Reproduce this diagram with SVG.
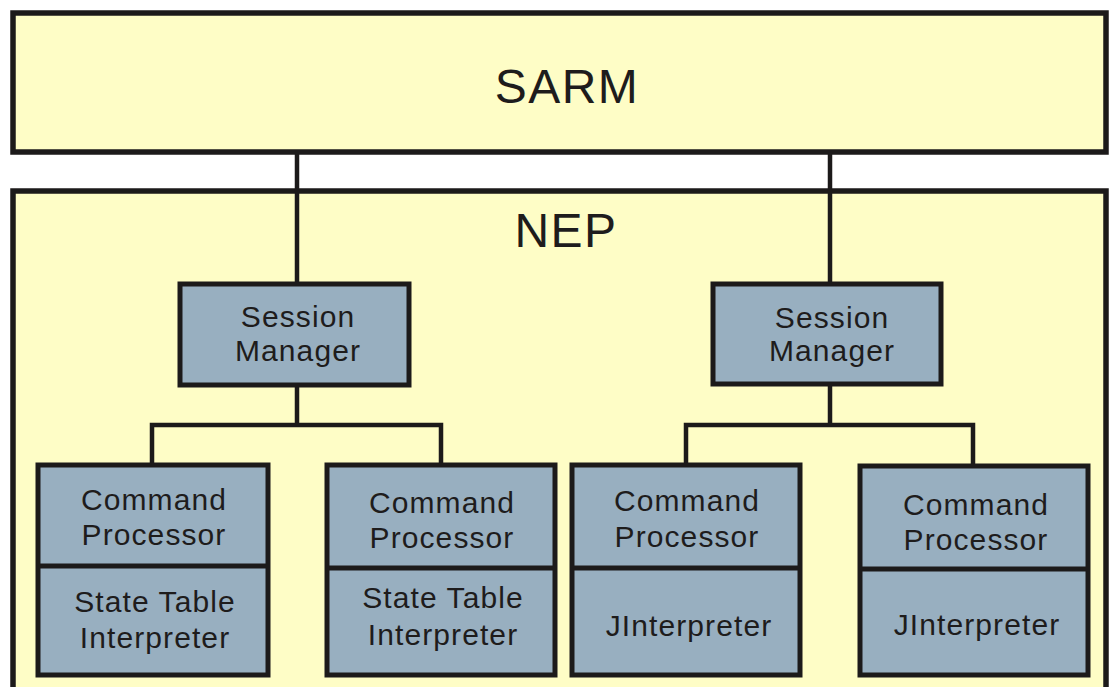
<svg xmlns="http://www.w3.org/2000/svg" width="1111" height="687" viewBox="0 0 1111 687">
<style>
.outer{fill:#FEFDC6;stroke:#1c1a1a;stroke-width:5.5}
.box{fill:#98AFC0;stroke:#1c1a1a;stroke-width:5}
.div{stroke:#1c1a1a;stroke-width:5;fill:none}
.con{stroke:#1c1a1a;stroke-width:4.5;fill:none}
.big{font-family:"Liberation Sans",Arial,sans-serif;font-size:48px;fill:#1e1c1c;text-anchor:middle;letter-spacing:1.5px}
.t{font-family:"Liberation Sans",Arial,sans-serif;font-size:30px;fill:#1e1c1c;text-anchor:middle;letter-spacing:1.1px}
</style>
<rect width="1111" height="687" fill="#ffffff"/>
<g id="sarm">
<rect class="outer" x="13" y="13" width="1093" height="139"/>
<text class="big" x="567" y="103">SARM</text>
</g>
<g id="nep">
<rect class="outer" x="13" y="191" width="1093" height="540"/>
<text class="big" x="566" y="247">NEP</text>
</g>
<g id="connectors">
<path class="con" d="M297 152V284M830 152V284"/>
<path class="con" d="M297 385V425M152 465V425H441V465"/>
<path class="con" d="M830 385V425M686 465V425H973V465"/>
</g>
<g id="sm1">
<rect class="box" x="180" y="284" width="229" height="101"/>
<text class="t" x="298" y="327">Session</text>
<text class="t" x="298" y="361">Manager</text>
</g>
<g id="sm2">
<rect class="box" x="713" y="284" width="228" height="100"/>
<text class="t" x="832" y="328">Session</text>
<text class="t" x="832" y="361">Manager</text>
</g>
<g id="cp1">
<rect class="box" x="38" y="465" width="230" height="210"/>
<line class="div" x1="38" y1="566" x2="268" y2="566"/>
<text class="t" x="154" y="510">Command</text>
<text class="t" x="154" y="545">Processor</text>
<text class="t" x="155" y="612">State Table</text>
<text class="t" x="155" y="648">Interpreter</text>
</g>
<g id="cp2">
<rect class="box" x="327" y="465" width="228" height="210"/>
<line class="div" x1="327" y1="568" x2="555" y2="568"/>
<text class="t" x="442" y="513">Command</text>
<text class="t" x="442" y="548">Processor</text>
<text class="t" x="443" y="608">State Table</text>
<text class="t" x="443" y="645">Interpreter</text>
</g>
<g id="cp3">
<rect class="box" x="572" y="465" width="228" height="210"/>
<line class="div" x1="572" y1="568" x2="800" y2="568"/>
<text class="t" x="687" y="511">Command</text>
<text class="t" x="687" y="547">Processor</text>
<text class="t" x="689" y="636">JInterpreter</text>
</g>
<g id="cp4">
<rect class="box" x="860" y="466" width="228" height="209"/>
<line class="div" x1="860" y1="569" x2="1088" y2="569"/>
<text class="t" x="976" y="515">Command</text>
<text class="t" x="976" y="550">Processor</text>
<text class="t" x="977" y="635">JInterpreter</text>
</g>
</svg>
